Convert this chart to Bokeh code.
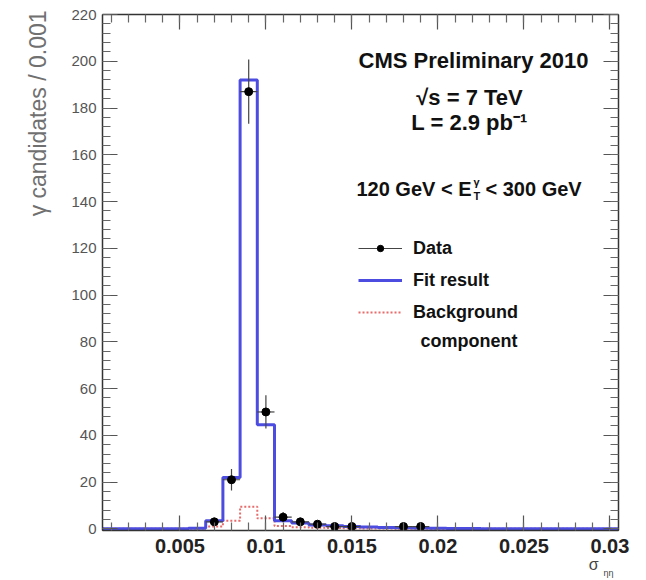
import math
import numpy as np
from bokeh.plotting import figure
from bokeh.models import (Range1d, LinearAxis, FixedTicker, CustomJSTickFormatter,
                          Label, Legend, LegendItem, Title)
from bokeh.embed import file_html
from bokeh.resources import INLINE

# ---------------- data ----------------
bin_width = 0.001
bin_centers = [0.001, 0.002, 0.003, 0.004, 0.005, 0.006, 0.007, 0.008, 0.009, 0.010,
               0.011, 0.012, 0.013, 0.014, 0.015, 0.016, 0.017, 0.018, 0.019, 0.020,
               0.021, 0.022, 0.023, 0.024, 0.025, 0.026, 0.027, 0.028, 0.029, 0.030]
fit_values = [0.0, 0.0, 0.0, 0.0, 0.0, 0.3, 3.5, 22.0, 192.0, 44.5,
              3.5, 2.5, 1.7, 1.3, 1.0, 0.8, 0.6, 0.5, 0.4, 0.3,
              0.2, 0.2, 0.1, 0.1, 0.1, 0.0, 0.0, 0.0, 0.0, 0.0]
bkg_values = [0.0, 0.0, 0.0, 0.0, 0.0, 0.2, 1.0, 3.5, 9.5, 4.5,
              1.2, 0.7, 0.5, 0.4, 0.3, 0.2, 0.2, 0.1, 0.1, 0.1,
              0.1, 0.0, 0.0, 0.0, 0.0, 0.0, 0.0, 0.0, 0.0, 0.0]

data_x = [0.007, 0.008, 0.009, 0.010, 0.011, 0.012, 0.013, 0.014, 0.015, 0.018, 0.019]
data_y = [3, 21, 187, 50, 5, 3, 2, 1, 1, 1, 1]
data_err = [1.7, 4.6, 13.7, 7.1, 2.2, 1.7, 1.4, 1.0, 1.0, 1.0, 1.0]

x_ticks = [0.005, 0.01, 0.015, 0.02, 0.025, 0.03]
y_ticks = [0, 20, 40, 60, 80, 100, 120, 140, 160, 180, 200, 220]

FONT = "Liberation Sans"

# derived geometry for the step outlines
edges = [c - bin_width / 2 for c in bin_centers] + [bin_centers[-1] + bin_width / 2]
fit_ext = fit_values + [fit_values[-1]]
bkg_ext = bkg_values + [bkg_values[-1]]
x_minor = [round(c, 4) for c in bin_centers]
y_minor = list(range(0, 221, 4))

# ---------------- figure ----------------
p = figure(width=646, height=580, output_backend="svg", toolbar_location=None,
           x_range=Range1d(edges[0], edges[-1]), y_range=Range1d(-0.7, 220),
           min_border_left=102, min_border_right=28, min_border_top=14,
           min_border_bottom=50)
p.grid.visible = False
p.outline_line_color = "#333333"
p.background_fill_color = "white"
p.border_fill_color = "white"

xt = FixedTicker(ticks=x_ticks, minor_ticks=x_minor)
yt = FixedTicker(ticks=y_ticks, minor_ticks=y_minor)
blank = CustomJSTickFormatter(code="return '';")

def style_axis(ax, show_labels):
    ax.axis_line_color = "#333333"
    ax.axis_line_width = 1.5
    ax.major_tick_in = 15
    ax.major_tick_out = 0
    ax.minor_tick_in = 8
    ax.minor_tick_out = 0
    ax.major_tick_line_color = "#555555"
    ax.minor_tick_line_color = "#666666"
    ax.major_tick_line_width = 1.2
    ax.minor_tick_line_width = 1.2
    if not show_labels:
        ax.formatter = blank
        ax.major_label_standoff = 0

xa = p.xaxis[0]
xa.ticker = xt
xa.formatter = CustomJSTickFormatter(code="return tick.toFixed(3).replace(/0+$/, '');")
style_axis(xa, True)
xa.major_label_text_font = FONT
xa.major_label_text_font_size = "20px"
xa.major_label_text_font_style = "bold"
xa.major_label_text_color = "#222222"
xa.major_label_standoff = 8

ya = p.yaxis[0]
ya.ticker = yt
style_axis(ya, True)
ya.major_label_text_font = FONT
ya.major_label_text_font_size = "15px"
ya.major_label_text_color = "#555555"
ya.major_label_standoff = 6

top_ax = LinearAxis(ticker=xt)
style_axis(top_ax, False)
p.add_layout(top_ax, "above")
right_ax = LinearAxis(ticker=yt)
style_axis(right_ax, False)
p.add_layout(right_ax, "right")

# axis titles (ROOT style: aligned to the axis end)
ytitle = Title(text="\u03b3 candidates / 0.001", align="right", text_font=FONT,
               text_font_size="23px", text_font_style="normal",
               text_color="#707070", standoff=35, offset=-4)
p.add_layout(ytitle, "left")
xtitle = Title(text="\u03c3", align="right", text_font=FONT, text_font_size="16px",
               text_font_style="normal", text_color="#444444", standoff=-4, offset=20)
p.add_layout(xtitle, "below")
xsub = Title(text="\u03b7\u03b7", align="right", text_font=FONT, text_font_size="9px",
             text_font_style="normal", text_color="#444444", standoff=-9, offset=5)
p.add_layout(xsub, "below")

# ---------------- glyphs ----------------
red = p.step(x=edges, y=bkg_ext, mode="after", line_color="#e86a6a",
             line_width=2, line_dash="2 2")
blue = p.step(x=edges, y=fit_ext, mode="after", line_color="#4c4ce0", line_width=3)

dx = np.array(data_x)
dy = np.array(data_y, dtype=float)
de = np.array(data_err)
vseg = p.segment(x0=dx, y0=dy - de, x1=dx, y1=dy + de, line_color="#444444", line_width=1.2)
hseg = p.segment(x0=dx - bin_width / 2, y0=dy, x1=dx + bin_width / 2, y1=dy,
                 line_color="#444444", line_width=1.2)
pts = p.scatter(x=dx, y=dy, size=8, color="black")

# ---------------- legend ----------------
legend = Legend(items=[LegendItem(label="Data", renderers=[hseg, pts]),
                       LegendItem(label="Fit result", renderers=[blue]),
                       LegendItem(label="Background", renderers=[red])],
                location=(256, 202))
legend.label_text_font = FONT
legend.label_text_font_style = "bold"
legend.label_text_font_size = "18px"
legend.label_text_color = "#111111"
legend.glyph_width = 44
legend.glyph_height = 16
legend.label_height = 32
legend.label_standoff = 11
legend.spacing = 0
legend.padding = 0
legend.margin = 0
legend.border_line_color = None
legend.background_fill_alpha = 0
p.add_layout(legend)

# ---------------- texts ----------------
def lab(x, y, text, size, bold=True, align="center", color="#111111", angle=0.0,
        baseline="middle"):
    p.add_layout(Label(x=x, y=y, x_units="screen", y_units="screen", text=text,
                       text_font=FONT, text_font_size=size,
                       text_font_style="bold" if bold else "normal",
                       text_align=align, text_baseline=baseline,
                       text_color=color, angle=angle))

lab(371, 470, "CMS Preliminary 2010", "22px")
lab(367, 433, "\u221as = 7 TeV", "22px")
lab(367, 408, "L = 2.9 pb\u207b\u00b9", "22px")
lab(369, 342, "120 GeV < E", "20px", align="right")
lab(371, 349, "\u03b3", "11px", align="left")
lab(371, 335, "T", "11px", align="left")
lab(383, 342, "< 300 GeV", "20px", align="left")
lab(318, 190, "component", "18px", align="left")

open("out.html", "w").write(file_html(p, INLINE))
